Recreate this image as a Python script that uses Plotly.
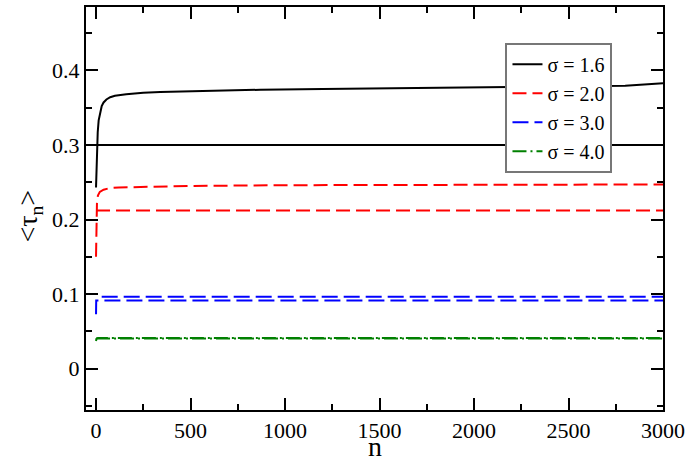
import plotly.graph_objects as go

# ---- data ----
labels = ["σ = 1.6", "σ = 2.0", "σ = 3.0", "σ = 4.0"]
colors = ["black", "red", "blue", "green"]
dashes = ["solid", "14px,6px", "16px,6px", "14px,4px,2px,4px"]

n_upper_16 = [0, 2, 4, 6, 9, 14, 21, 30, 40, 55, 75, 100, 160, 250, 340, 500, 870, 1200, 1600, 2000, 2400, 2800, 2900, 3000]
v_upper_16 = [0.243, 0.262, 0.285, 0.300, 0.317, 0.333, 0.344, 0.352, 0.357, 0.361, 0.364, 0.366, 0.368, 0.370, 0.371, 0.372, 0.374, 0.375, 0.376, 0.377, 0.378, 0.3795, 0.381, 0.3826]
n_lower_16 = [0, 3000]
v_lower_16 = [0.300, 0.300]

n_upper_20 = [0, 2, 5, 10, 20, 40, 70, 120, 250, 500, 1000, 2000, 3000]
v_upper_20 = [0.150, 0.190, 0.222, 0.232, 0.237, 0.240, 0.242, 0.243, 0.244, 0.245, 0.246, 0.246, 0.247]
n_lower_20 = [0, 3000]
v_lower_20 = [0.212, 0.212]

n_upper_30 = [30, 3000]
v_upper_30 = [0.0965, 0.0965]
n_lower_30 = [0, 1, 3000]
v_lower_30 = [0.073, 0.0915, 0.0915]

n_upper_40 = [0, 2, 10, 3000]
v_upper_40 = [0.037, 0.040, 0.0412, 0.0412]
n_lower_40 = [0, 3000]
v_lower_40 = [0.0405, 0.0405]

upper = [(n_upper_16, v_upper_16), (n_upper_20, v_upper_20), (n_upper_30, v_upper_30), (n_upper_40, v_upper_40)]
lower = [(n_lower_16, v_lower_16), (n_lower_20, v_lower_20), (n_lower_30, v_lower_30), (n_lower_40, v_lower_40)]

x_ticks = [0, 500, 1000, 1500, 2000, 2500, 3000]
y_ticks = [0, 0.1, 0.2, 0.3, 0.4]
x_title = "n"
y_title = "&lt;τ<sub>n</sub>&gt;"

FONT = "Liberation Serif"

fig = go.Figure()
for i in range(4):
    fig.add_trace(go.Scatter(x=lower[i][0], y=lower[i][1], mode="lines",
                             line=dict(color=colors[i], width=2, dash=dashes[i]),
                             name=labels[i], legendgroup=labels[i], showlegend=False))
    fig.add_trace(go.Scatter(x=upper[i][0], y=upper[i][1], mode="lines",
                             line=dict(color=colors[i], width=2, dash=dashes[i]),
                             name=labels[i], legendgroup=labels[i], showlegend=True))

axis_common = dict(showline=True, linecolor="black", linewidth=2, mirror="allticks",
                   ticks="inside", ticklen=12, tickwidth=1.5, tickcolor="black",
                   showgrid=False, zeroline=False, automargin=False,
                   tickfont=dict(family=FONT, size=22, color="black"))

fig.update_xaxes(range=[-53, 3000], tickvals=x_ticks, ticktext=[str(v) for v in x_ticks],
                 minor=dict(dtick=250, tick0=0, ticks="inside", ticklen=6, tickwidth=1.5, tickcolor="black"),
                 **axis_common)
fig.update_yaxes(range=[-0.0555, 0.485], tickvals=y_ticks, ticktext=["0", "0.1", "0.2", "0.3", "0.4"],
                 minor=dict(dtick=0.05, tick0=0, ticks="inside", ticklen=6, tickwidth=1.5, tickcolor="black"),
                 **axis_common)

fig.add_annotation(text=x_title, xref="paper", yref="paper", x=0.5, y=-0.09,
                   xanchor="center", yanchor="middle", showarrow=False,
                   font=dict(family=FONT, size=28, color="black"))
fig.add_annotation(text=y_title, xref="paper", yref="paper", x=-0.097, y=0.48,
                   xanchor="center", yanchor="middle", showarrow=False, textangle=-90,
                   font=dict(family=FONT, size=28, color="black"))

fig.update_layout(
    width=690, height=458,
    margin=dict(l=86, r=27, t=7, b=48),
    plot_bgcolor="white", paper_bgcolor="white",
    font=dict(family=FONT, color="black"),
    legend=dict(x=0.727, y=0.911, xanchor="left", yanchor="top",
                bgcolor="white", bordercolor="#777777", borderwidth=2,
                font=dict(family=FONT, size=20, color="black"),
                tracegroupgap=0, itemwidth=30),
    showlegend=True,
)

fig.write_html("out.html", config={"displayModeBar": False},
               post_script="document.body.style.margin='0';")
